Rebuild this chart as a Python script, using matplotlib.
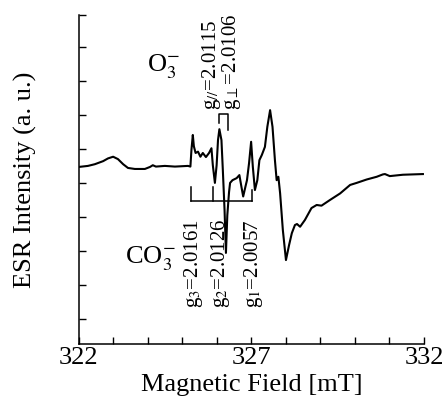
import numpy as np
import matplotlib
matplotlib.use('Agg')
import matplotlib.pyplot as plt

plt.rcParams['font.family'] = ['Liberation Serif', 'DejaVu Serif']
plt.rcParams['mathtext.fontset'] = 'stix'

# ESR spectrum (field in mT, intensity in a.u.)
field = [322.00, 322.26, 322.46, 322.70, 322.84, 322.99, 323.13, 323.28, 323.42, 323.62,
         323.91, 324.06, 324.14, 324.23, 324.49, 324.78, 325.16, 325.23, 325.26, 325.30,
         325.33, 325.38, 325.45, 325.52, 325.59, 325.68, 325.77, 325.84, 325.88, 325.94,
         325.99, 326.03, 326.07, 326.13, 326.17, 326.22, 326.26, 326.30, 326.35, 326.38,
         326.45, 326.57, 326.65, 326.71, 326.76, 326.83, 326.87, 326.93, 326.99, 327.04,
         327.10, 327.17, 327.23, 327.30, 327.39, 327.46, 327.54, 327.61, 327.68, 327.73,
         327.78, 327.83, 327.91, 328.00, 328.09, 328.17, 328.26, 328.32, 328.41, 328.55,
         328.74, 328.89, 329.03, 329.28, 329.57, 329.86, 330.05, 330.34, 330.63, 330.81,
         330.87, 331.01, 331.39, 331.97]
intensity = [5.21, 5.24, 5.29, 5.38, 5.46, 5.51, 5.44, 5.29, 5.18, 5.15,
             5.15, 5.21, 5.26, 5.22, 5.24, 5.22, 5.24, 5.22, 5.71, 6.15,
             5.82, 5.62, 5.66, 5.51, 5.62, 5.50, 5.62, 5.76, 5.26, 4.74,
             5.26, 6.00, 6.32, 6.00, 5.12, 3.94, 2.68, 3.79, 4.47, 4.74,
             4.82, 4.88, 4.97, 4.62, 4.34, 4.65, 4.82, 5.32, 5.95, 5.21,
             4.53, 4.82, 5.41, 5.56, 5.80, 6.39, 6.88, 6.39, 5.41, 4.82,
             4.92, 4.44, 3.35, 2.47, 2.91, 3.26, 3.50, 3.53, 3.45, 3.65,
             4.00, 4.09, 4.07, 4.24, 4.43, 4.68, 4.74, 4.84, 4.92, 4.99,
             5.00, 4.94, 4.98, 5.00]

# O3- bracket (g// , g_perp)
o3_labels = ['g$_{//}$=2.0115', 'g$_{\\perp}$=2.0106']
o3_field = [326.07, 326.33]
o3_leg_low = [6.50, 6.29]
o3_top = 6.77
o3_text_x = [325.83, 326.43]

# CO3- bracket (g3, g2, g1)
co3_labels = ['g$_3$=2.0161', 'g$_2$=2.0126', 'g$_1$=2.0057']
co3_field = [325.24, 325.89, 327.03]
co3_leg_top = [4.62, 4.63, 4.53]
co3_base = 4.22
co3_text_x = [325.32, 326.09, 327.07]

fig = plt.figure(figsize=(4.48, 3.98), dpi=100)
ax = fig.add_axes([0.1763, 0.1357, 0.770, 0.8266])

ax.plot(field, intensity, color='black', linewidth=1.5)

# O3- bracket
ax.plot([o3_field[0], o3_field[0], o3_field[1], o3_field[1]],
        [o3_leg_low[0], o3_top, o3_top, o3_leg_low[1]], color='black', linewidth=1.1)
for x, lab in zip(o3_text_x, o3_labels):
    ax.text(x, 6.88, lab, rotation=90, ha='center', va='bottom', fontsize=15)

# CO3- bracket
ax.plot([co3_field[0], co3_field[-1]], [co3_base, co3_base], color='black', linewidth=1.1)
for x, top in zip(co3_field, co3_leg_top):
    ax.plot([x, x], [co3_base, top], color='black', linewidth=1.1)
for x, lab in zip(co3_text_x, co3_labels):
    ax.text(x, 1.07, lab, rotation=90, ha='center', va='bottom', fontsize=15)

ax.text(323.97, 8.0, 'O$_3^{-}$', fontsize=19, ha='left', va='baseline')
ax.text(323.33, 2.37, 'CO$_3^{-}$', fontsize=19, ha='left', va='baseline')

ax.set_xlim(322, 332)
ax.set_ylim(0, 9.68)
ax.spines['top'].set_visible(False)
ax.spines['right'].set_visible(False)
for s in ['left', 'bottom']:
    ax.spines[s].set_linewidth(1.1)

ax.set_xticks(np.arange(322, 333, 1))
ax.set_xticklabels(['322', '', '', '', '', '327', '', '', '', '', '332'])
ax.set_yticks(list(np.arange(0.75, 9.0, 1.0)) + [9.68])
ax.set_yticklabels([])
ax.tick_params(direction='in', length=5, width=1.0, labelsize=19, pad=2)

ax.set_xlabel('Magnetic Field [mT]', fontsize=19, labelpad=4)
ax.set_ylabel('ESR Intensity (a. u.)', fontsize=19, labelpad=28)

fig.savefig('out.png', dpi=100)
